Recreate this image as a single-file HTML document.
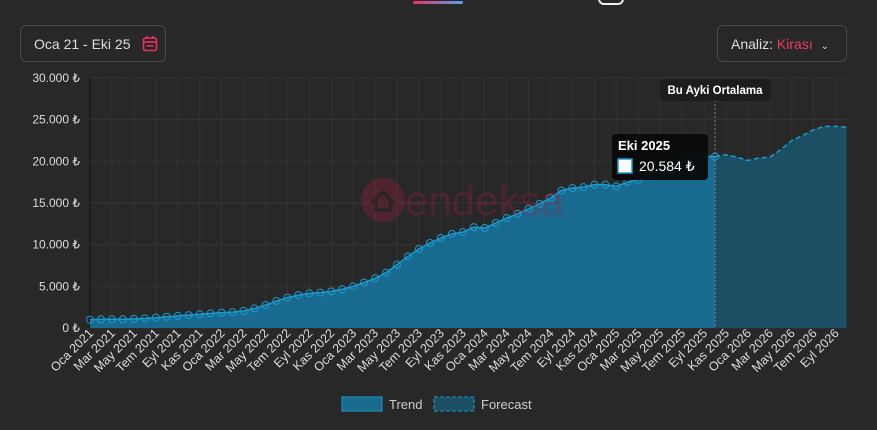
<!DOCTYPE html>
<html><head><meta charset="utf-8"><style>
body{margin:0;background:#282828;font-family:"Liberation Sans",sans-serif;}
#w{position:relative;width:877px;height:430px;overflow:hidden;background:#282828}
.btn{position:absolute;border:1px solid #4a4a4a;border-radius:6px;color:#ddd;font-size:14px;box-sizing:border-box}
</style></head><body><div id="w">
<div style="position:absolute;left:413px;top:1px;width:50px;height:3px;background:linear-gradient(90deg,#e8315f,#5aa0f0);border-radius:2px"></div>
<div style="position:absolute;left:598px;top:-6px;width:22px;height:9px;border:2px solid #eee;border-top:none;border-radius:0 0 6px 6px"></div>
<div class="btn" style="left:20px;top:25px;width:146px;height:37px;padding:10px 0 0 13px">Oca 21 - Eki 25
<svg style="position:absolute;left:121px;top:9px" width="16" height="17"><rect x="1.5" y="3" width="13" height="12.5" rx="2" fill="none" stroke="#e8315f" stroke-width="1.6"/><line x1="1.5" y1="7" x2="14.5" y2="7" stroke="#e8315f" stroke-width="1.6"/><line x1="5" y1="1" x2="5" y2="4" stroke="#e8315f" stroke-width="1.6"/><line x1="11" y1="1" x2="11" y2="4" stroke="#e8315f" stroke-width="1.6"/><rect x="4.5" y="10" width="7" height="1.6" fill="#e8315f"/></svg></div>
<div class="btn" style="left:717px;top:25px;width:130px;height:37px;padding:10px 0 0 13px">Analiz: <span style="color:#ea3a64">Kirası</span> <span style="font-size:10px;margin-left:4px">&#8964;</span></div>
<svg id="c" width="877" height="430" style="position:absolute;left:0;top:0"></svg>
</div>
<script>
const tr=[1000,1050,1050,1050,1100,1150,1250,1350,1450,1550,1650,1750,1850,1900,2050,2350,2750,3250,3650,3950,4150,4250,4400,4650,5000,5450,5950,6650,7600,8600,9500,10200,10800,11300,11500,12100,12000,12600,13200,13700,14300,14900,15600,16500,16800,16900,17200,17200,17000,17500,17800,18400,19300,19900,20400,20600,20600,20584];
const fc=[20584,20800,20500,20100,20400,20500,21400,22500,23100,23800,24200,24200,24100];
const X=i=>90+i*10.965, Y=v=>328-v*250/30000;
const mn=["Oca","Şub","Mar","Nis","May","Haz","Tem","Ağu","Eyl","Eki","Kas","Ara"];
let g='';
for(let k=0;k<=6;k++){const y=Y(k*5000);g+=`<line x1="90" x2="847" y1="${y}" y2="${y}" stroke="#333" />`;
g+=`<text x="80" y="${y+4}" fill="#ddd" font-size="12" text-anchor="end">${(k*5000).toLocaleString('de-DE')} ₺</text>`;}
for(let i=0;i<=69;i+=2){const x=X(i);g+=`<line x1="${x}" x2="${x}" y1="78" y2="328" stroke="#333"/>`;
g+=`<text transform="translate(${x+4},${334}) rotate(-45)" fill="#ddd" font-size="12.5" text-anchor="end">${mn[i%12]} ${2021+Math.floor(i/12)}</text>`;}
g+=`<line x1="90" x2="90" y1="78" y2="328" stroke="#111"/>`;
let p=tr.map((v,i)=>`${X(i)},${Y(v)}`).join(' ');
g+=`<polygon points="${X(0)},328 ${p} ${X(57)},328" fill="#186b8f"/>`;
let q=fc.map((v,i)=>`${X(57+i)},${Y(v)}`).join(' ');
g+=`<polygon points="${X(57)},328 ${q} ${X(69)},328" fill="#1c4f63"/>`;
g+=`<polyline points="${p}" fill="none" stroke="#1a9bd0" stroke-width="1.5"/>`;
g+=`<polyline points="${q}" fill="none" stroke="#1a9bd0" stroke-width="1.5" stroke-dasharray="5,3"/>`;
tr.forEach((v,i)=>g+=`<circle cx="${X(i)}" cy="${Y(v)}" r="3.5" fill="none" stroke="#1a9bd0" stroke-width="1"/>`);
g+=`<g opacity="0.28"><circle cx="383" cy="200" r="22" fill="#b02040"/><path d="M372 203 L383 192 L394 203 M376 200 V210 H390 V200" stroke="#281a1e" stroke-width="3" fill="none"/><text x="405" y="215" fill="#b02040" font-size="42">endeksa</text></g>`;
g+=`<line x1="${X(57)}" x2="${X(57)}" y1="100" y2="328" stroke="#888" stroke-dasharray="2,2"/>`;
g+=`<rect x="660" y="79" width="111" height="22" rx="3" fill="#1d1d1d"/><text x="715" y="94" fill="#fff" font-size="11.5" font-weight="bold" text-anchor="middle">Bu Ayki Ortalama</text>`;
g+=`<rect x="612" y="134" width="96" height="46" rx="4" fill="#0a0a0a" opacity="0.95"/><text x="618" y="150" fill="#fff" font-size="13" font-weight="bold">Eki 2025</text><rect x="618" y="159" width="14" height="14" fill="#fff" stroke="#1a9bd0" stroke-width="1.5"/><text x="639" y="171" fill="#fff" font-size="14">20.584 ₺</text>`;
g+=`<rect x="342" y="397" width="40" height="14" fill="#186b8f" stroke="#1a9bd0" stroke-width="1"/><text x="389" y="409" fill="#ccc" font-size="13">Trend</text>`;
g+=`<rect x="434" y="397" width="40" height="14" fill="#1c4f63" stroke="#1a9bd0" stroke-width="1" stroke-dasharray="4,2"/><text x="481" y="409" fill="#ccc" font-size="13">Forecast</text>`;
document.getElementById('c').innerHTML=g;
</script></body></html>
